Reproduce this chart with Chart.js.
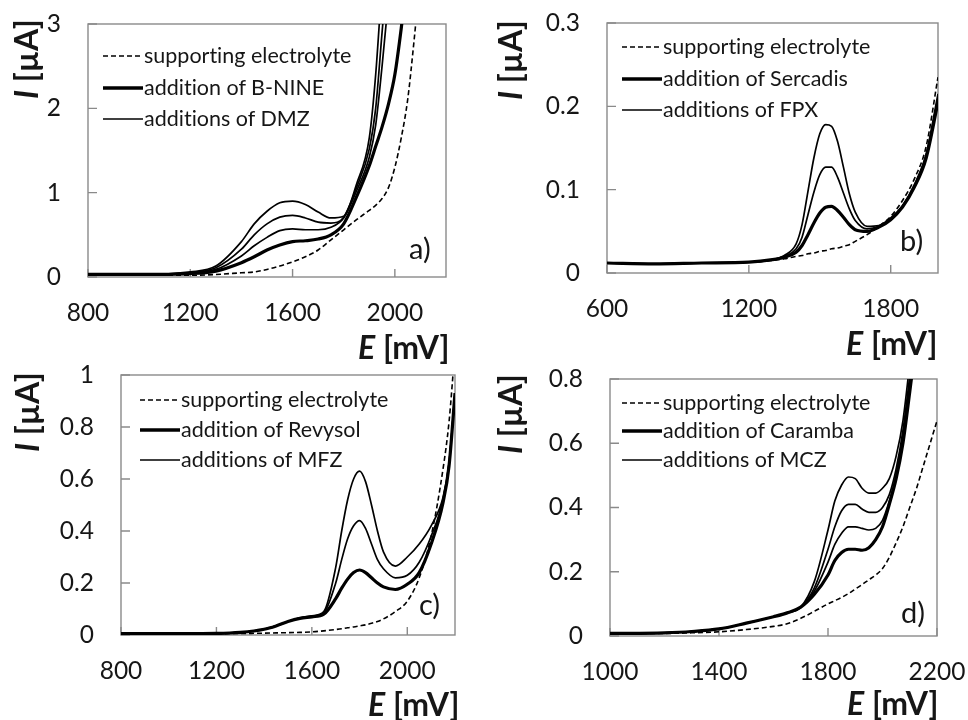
<!DOCTYPE html>
<html>
<head>
<meta charset="utf-8">
<script src="https://cdn.jsdelivr.net/npm/chart.js@4.4.1/dist/chart.umd.min.js"></script>
<style>
html,body{margin:0;padding:0;background:#fff;}
body{width:968px;height:720px;position:relative;overflow:hidden;font-family:Lato,'Open Sans',sans-serif;color:#161616;font-variant-ligatures:none;}
canvas.pc{position:absolute;}
.ytitle{position:absolute;font-weight:bold;font-size:32px;white-space:nowrap;transform:rotate(-90deg);transform-origin:0 0;line-height:1;}
.xtitle{position:absolute;font-weight:bold;font-size:32px;white-space:nowrap;line-height:1;}
.tag{position:absolute;font-size:29px;line-height:1;white-space:nowrap;}
.leg{position:absolute;height:24px;display:flex;align-items:center;font-size:21.5px;line-height:1;white-space:nowrap;}
.leg svg{display:block;margin-right:1px;}
</style>
</head>
<body>
<canvas class="pc" id="ca" width="484" height="360" style="left:0;top:0"></canvas>
<canvas class="pc" id="cb" width="484" height="360" style="left:484px;top:0"></canvas>
<canvas class="pc" id="cc" width="484" height="360" style="left:0;top:360px"></canvas>
<canvas class="pc" id="cd" width="484" height="360" style="left:484px;top:360px"></canvas>
<script>
// ---------- data (E in mV, I in µA) ----------
const E_a = [800, 1000, 1200, 1300, 1400, 1450, 1500, 1550, 1600, 1650, 1700, 1750, 1800, 1850, 1900, 1925, 1950, 1975, 2000, 2025, 2050, 2075, 2100];
const electrolyte_a = [0.02, 0.02, 0.02, 0.03, 0.05, 0.06, 0.09, 0.13, 0.18, 0.24, 0.32, 0.44, 0.56, 0.68, 0.79, 0.85, 0.93, 1.06, 1.3, 1.65, 2.1, 2.8, 3.6];
const bnine_a = [0.03, 0.03, 0.04, 0.07, 0.17, 0.24, 0.32, 0.38, 0.42, 0.43, 0.45, 0.50, 0.63, 0.95, 1.32, 1.55, 1.78, 2.05, 2.4, 2.95, 3.6, null, null];
const dmz1_a = [0.03, 0.03, 0.05, 0.09, 0.25, 0.37, 0.47, 0.55, 0.57, 0.56, 0.56, 0.59, 0.70, 1.02, 1.42, 1.8, 2.5, 3.3, null, null, null, null, null];
const dmz2_a = [0.03, 0.03, 0.05, 0.11, 0.33, 0.50, 0.63, 0.71, 0.73, 0.70, 0.65, 0.64, 0.71, 1.06, 1.52, 2.0, 2.9, 3.8, null, null, null, null, null];
const dmz3_a = [0.03, 0.03, 0.06, 0.13, 0.42, 0.63, 0.78, 0.88, 0.90, 0.86, 0.77, 0.70, 0.72, 1.1, 1.65, 2.4, 3.5, null, null, null, null, null, null];

const E_b = [600, 800, 1000, 1200, 1300, 1350, 1400, 1425, 1450, 1475, 1500, 1525, 1550, 1575, 1600, 1625, 1650, 1700, 1750, 1800, 1850, 1900, 1950, 2000];
const electrolyte_b = [0.012, 0.011, 0.012, 0.013, 0.015, 0.017, 0.020, 0.021, 0.023, 0.024, 0.026, 0.027, 0.029, 0.030, 0.032, 0.034, 0.038, 0.046, 0.056, 0.068, 0.087, 0.113, 0.152, 0.235];
const sercadis_b = [0.012, 0.011, 0.012, 0.013, 0.016, 0.019, 0.025, 0.033, 0.046, 0.060, 0.072, 0.079, 0.080, 0.075, 0.067, 0.058, 0.052, 0.050, 0.055, 0.064, 0.079, 0.103, 0.138, 0.205];
const fpx1_b = [0.012, 0.011, 0.012, 0.013, 0.016, 0.020, 0.029, 0.043, 0.070, 0.097, 0.118, 0.127, 0.127, 0.115, 0.096, 0.077, 0.063, 0.053, 0.056, 0.065, 0.080, 0.105, 0.141, 0.210];
const fpx2_b = [0.012, 0.011, 0.012, 0.013, 0.016, 0.021, 0.035, 0.058, 0.098, 0.138, 0.167, 0.178, 0.176, 0.158, 0.127, 0.095, 0.073, 0.056, 0.057, 0.066, 0.081, 0.106, 0.143, 0.215];

const E_c = [800, 1000, 1200, 1300, 1400, 1450, 1500, 1550, 1600, 1650, 1700, 1725, 1750, 1775, 1800, 1825, 1850, 1875, 1900, 1950, 2000, 2050, 2100, 2150, 2175, 2200];
const electrolyte_c = [0.004, 0.004, 0.005, 0.006, 0.007, 0.008, 0.009, 0.010, 0.012, 0.016, 0.021, 0.024, 0.028, 0.031, 0.035, 0.039, 0.045, 0.052, 0.062, 0.09, 0.13, 0.22, 0.38, 0.64, 0.82, 1.1];
const revysol_c = [0.005, 0.005, 0.006, 0.010, 0.022, 0.035, 0.052, 0.064, 0.070, 0.080, 0.14, 0.18, 0.215, 0.24, 0.25, 0.24, 0.22, 0.20, 0.185, 0.175, 0.195, 0.24, 0.35, 0.51, 0.65, 0.93];
const mfz1_c = [0.005, 0.005, 0.006, 0.010, 0.022, 0.035, 0.052, 0.065, 0.072, 0.085, 0.20, 0.29, 0.37, 0.42, 0.44, 0.41, 0.35, 0.29, 0.255, 0.22, 0.23, 0.28, 0.38, 0.52, 0.66, 0.93];
const mfz2_c = [0.005, 0.005, 0.006, 0.010, 0.022, 0.035, 0.052, 0.066, 0.074, 0.09, 0.26, 0.40, 0.52, 0.60, 0.63, 0.59, 0.50, 0.40, 0.32, 0.265, 0.30, 0.35, 0.42, 0.53, 0.66, 0.93];

const E_d = [1000, 1200, 1300, 1400, 1500, 1600, 1650, 1700, 1750, 1800, 1825, 1850, 1875, 1900, 1925, 1950, 1975, 2000, 2025, 2050, 2075, 2100, 2125, 2150, 2200];
const electrolyte_d = [0.008, 0.008, 0.010, 0.013, 0.020, 0.030, 0.038, 0.055, 0.077, 0.10, 0.11, 0.12, 0.132, 0.146, 0.16, 0.175, 0.19, 0.21, 0.245, 0.29, 0.34, 0.40, 0.46, 0.53, 0.67];
const caramba_d = [0.008, 0.010, 0.014, 0.022, 0.040, 0.060, 0.072, 0.09, 0.13, 0.19, 0.235, 0.26, 0.27, 0.27, 0.267, 0.275, 0.30, 0.34, 0.41, 0.49, 0.60, 0.76, 0.93, null, null];
const mcz1_d = [0.008, 0.010, 0.014, 0.022, 0.040, 0.060, 0.072, 0.09, 0.14, 0.23, 0.285, 0.32, 0.34, 0.34, 0.335, 0.33, 0.335, 0.36, 0.42, 0.50, 0.62, 0.79, 0.98, null, null];
const mcz2_d = [0.008, 0.010, 0.014, 0.022, 0.040, 0.060, 0.072, 0.09, 0.15, 0.27, 0.34, 0.39, 0.41, 0.41, 0.395, 0.385, 0.385, 0.40, 0.44, 0.52, 0.64, 0.81, 1.0, null, null];
const mcz3_d = [0.008, 0.010, 0.014, 0.022, 0.040, 0.060, 0.072, 0.09, 0.17, 0.33, 0.42, 0.47, 0.495, 0.49, 0.46, 0.445, 0.445, 0.46, 0.49, 0.56, 0.67, 0.85, 1.05, null, null];

// tick values
const xTicks_a = [800, 1200, 1600, 2000];
const yTicks_a = [0, 1, 2, 3];
const xTicks_b = [600, 1200, 1800];
const yTicks_b = [0, 0.1, 0.2, 0.3];
const xTicks_c = [800, 1200, 1600, 2000];
const yTicks_c = [0, 0.2, 0.4, 0.6, 0.8, 1];
const xTicks_d = [1000, 1400, 1800, 2200];
const yTicks_d = [0, 0.2, 0.4, 0.6, 0.8];

// legend labels
const legend_a = ['supporting electrolyte', 'addition of B-NINE', 'additions of DMZ'];
const legend_b = ['supporting electrolyte', 'addition of Sercadis', 'additions of FPX'];
const legend_c = ['supporting electrolyte', 'addition of Revysol', 'additions of MFZ'];
const legend_d = ['supporting electrolyte', 'addition of Caramba', 'additions of MCZ'];

// ---------- rendering ----------
Chart.defaults.font.family = "Lato, 'Open Sans', sans-serif";
Chart.defaults.color = '#161616';

const FRAME = '#8a8a8a';
const frameTicks = {
  id: 'frameTicks',
  beforeDatasetsDraw(chart) {
    const {ctx, chartArea: a} = chart;
    const x = chart.scales.x, y = chart.scales.y;
    ctx.save();
    ctx.strokeStyle = FRAME;
    ctx.lineWidth = 1.4;
    ctx.strokeRect(a.left, a.top, a.right - a.left, a.bottom - a.top);
    ctx.beginPath();
    x.ticks.forEach(t => {
      const px = x.getPixelForValue(t.value);
      ctx.moveTo(px, a.bottom); ctx.lineTo(px, a.bottom - 8);
    });
    y.ticks.forEach(t => {
      const py = y.getPixelForValue(t.value);
      ctx.moveTo(a.left, py); ctx.lineTo(a.left + 9, py);
    });
    ctx.stroke();
    ctx.restore();
  }
};

function pts(E, I) { return E.map((e, i) => ({x: e, y: I[i]})); }

const STYLE = {
  dashed: {borderWidth: 1.6, borderDash: [5, 3]},
  thick: {borderWidth: 3.2, borderDash: []},
  thin: {borderWidth: 1.7, borderDash: []}
};

function ds(E, I, kind) {
  return Object.assign({
    data: pts(E, I), borderColor: '#000', pointRadius: 0, fill: false,
    cubicInterpolationMode: 'monotone', spanGaps: false
  }, STYLE[kind]);
}

function noPad(s) { s.paddingTop = 0; s.paddingBottom = 0; s.paddingLeft = 0; s.paddingRight = 0; }

function makeChart(id, datasets, xr, yr, xTicks, yTicks, box) {
  // box: [plotLeft, plotTop, plotRight, plotBottom] in canvas coordinates
  const W = 484, H = 360;
  return new Chart(document.getElementById(id), {
    type: 'line',
    data: {datasets},
    plugins: [frameTicks],
    options: {
      responsive: false, animation: false, events: [],
      layout: {padding: {left: 0, top: box[1], right: W - box[2], bottom: 0}},
      plugins: {legend: {display: false}, tooltip: {enabled: false}},
      scales: {
        x: {
          type: 'linear', min: xr[0], max: xr[1],
          afterBuildTicks: s => { s.ticks = xTicks.map(v => ({value: v})); },
          afterFit: s => { s.height = H - box[3]; noPad(s); },
          grid: {display: false, drawTicks: false}, border: {display: false},
          ticks: {font: {size: 24.5}, padding: 21, maxRotation: 0, autoSkip: false, callback: v => String(v)}
        },
        y: {
          type: 'linear', min: yr[0], max: yr[1],
          afterBuildTicks: s => { s.ticks = yTicks.map(v => ({value: v})); },
          afterFit: s => { s.width = box[0]; noPad(s); },
          grid: {display: false, drawTicks: false}, border: {display: false},
          ticks: {font: {size: 24.5}, padding: 27, autoSkip: false, callback: v => String(v)}
        }
      }
    }
  });
}

makeChart('ca', [
  ds(E_a, electrolyte_a, 'dashed'), ds(E_a, dmz1_a, 'thin'), ds(E_a, dmz2_a, 'thin'), ds(E_a, dmz3_a, 'thin'), ds(E_a, bnine_a, 'thick')
], [800, 2200], [0, 3], xTicks_a, yTicks_a, [88, 24, 446, 277]);

makeChart('cb', [
  ds(E_b, electrolyte_b, 'dashed'), ds(E_b, fpx1_b, 'thin'), ds(E_b, fpx2_b, 'thin'), ds(E_b, sercadis_b, 'thick')
], [600, 2000], [0, 0.3], xTicks_b, yTicks_b, [123, 23, 454, 273]);

makeChart('cc', [
  ds(E_c, electrolyte_c, 'dashed'), ds(E_c, mfz1_c, 'thin'), ds(E_c, mfz2_c, 'thin'), ds(E_c, revysol_c, 'thick')
], [800, 2200], [0, 1], xTicks_c, yTicks_c, [121, 15, 455, 275]);

makeChart('cd', [
  ds(E_d, electrolyte_d, 'dashed'), ds(E_d, mcz1_d, 'thin'), ds(E_d, mcz2_d, 'thin'), ds(E_d, mcz3_d, 'thin'), ds(E_d, caramba_d, 'thick')
], [1000, 2200], [0, 0.8], xTicks_d, yTicks_d, [126, 19, 453, 276]);

// ---------- overlays: legends, axis titles, panel tags ----------
function add(cls, html, left, top) {
  const d = document.createElement('div');
  d.className = cls; d.innerHTML = html;
  d.style.left = left + 'px'; d.style.top = top + 'px';
  document.body.appendChild(d);
  return d;
}
const SAMPLE = [
  '<line x1="0" y1="12" x2="40" y2="12" stroke="#000" stroke-width="1.6" stroke-dasharray="5 3"/>',
  '<line x1="0" y1="12" x2="40" y2="12" stroke="#000" stroke-width="3.4"/>',
  '<line x1="0" y1="12" x2="40" y2="12" stroke="#000" stroke-width="1.6"/>'
];
function legend(labels, left, rows) {
  labels.forEach((t, i) => {
    add('leg', '<svg width="40" height="24">' + SAMPLE[i] + '</svg><span>' + t + '</span>', left, rows[i] - 12);
  });
}
legend(legend_a, 103, [56, 88, 119]);
legend(legend_b, 622, [47, 79, 110]);
legend(legend_c, 140, [400, 430, 460]);
legend(legend_d, 622, [403, 431, 460]);

const YT = '<i>I</i> [µA]';
const XT = '<i>E</i> [mV]';
add('ytitle', YT, 10, 99);
add('ytitle', YT, 494, 100);
add('ytitle', YT, 11, 452);
add('ytitle', YT, 494, 454);
add('xtitle', XT, 358, 331);
add('xtitle', XT, 846, 327);
add('xtitle', XT, 368, 688);
add('xtitle', XT, 847, 687);

add('tag', 'a)', 409, 233);
add('tag', 'b)', 900, 225);
add('tag', 'c)', 419, 589);
add('tag', 'd)', 901, 597);
</script>
</body>
</html>
